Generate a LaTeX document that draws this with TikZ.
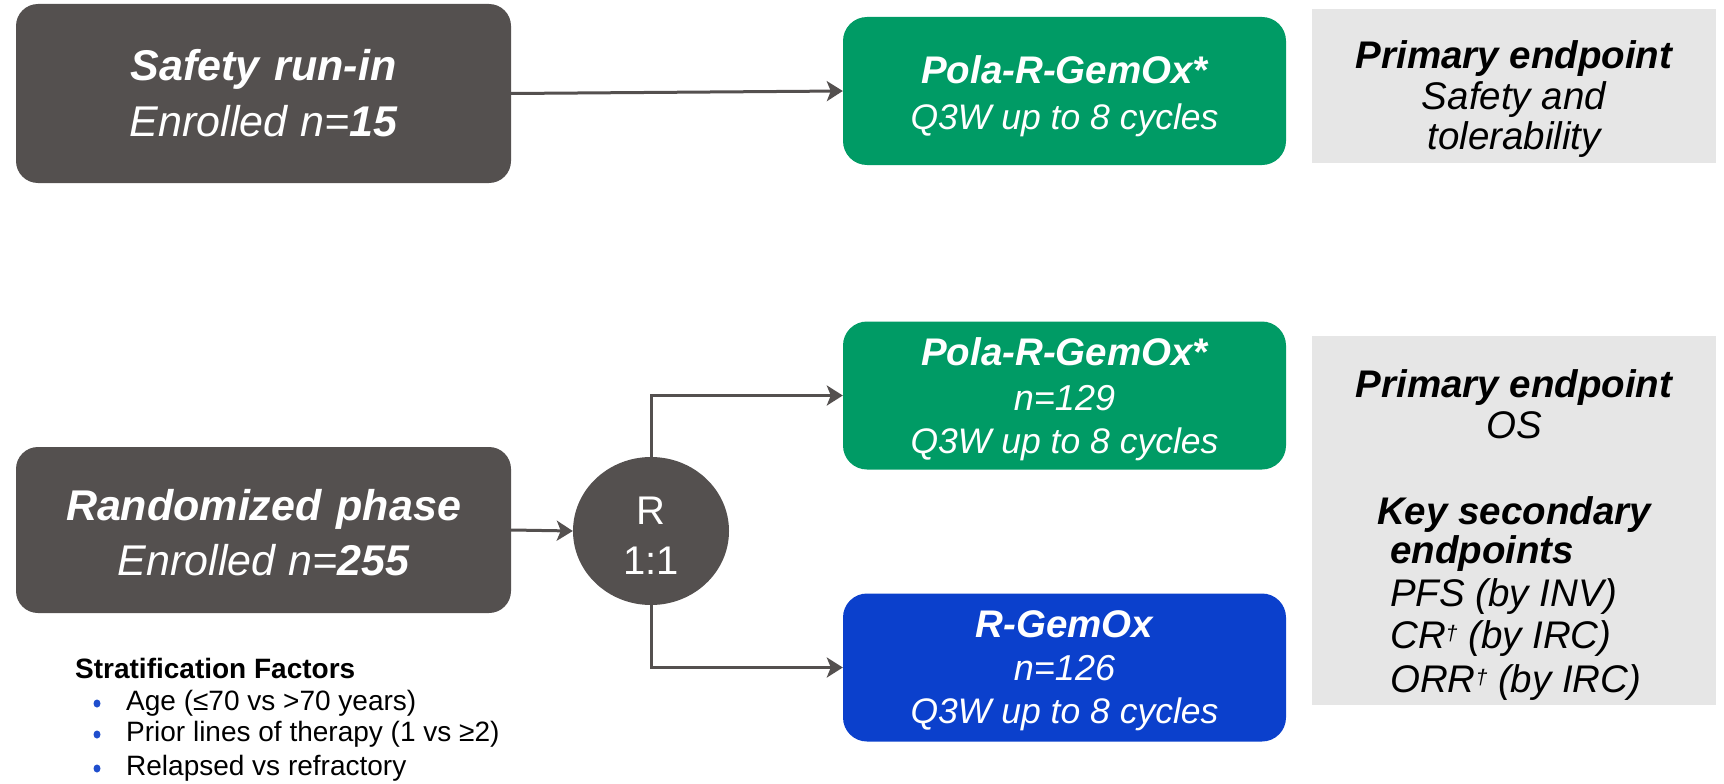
\documentclass[tikz,border=0pt]{standalone}
\usepackage{fontspec}
\setmainfont{Liberation Sans}
\usetikzlibrary{arrows.meta,shapes.geometric}
\definecolor{boxgray}{RGB}{84,80,79}
\definecolor{linegray}{RGB}{84,80,79}
\definecolor{armgreen}{RGB}{0,155,101}
\definecolor{armblue}{RGB}{11,64,204}
\definecolor{epgray}{RGB}{230,230,230}
\definecolor{bulletblue}{RGB}{31,78,205}
\newcommand{\fs}[1]{\fontsize{#1}{#1}\selectfont}
\newcommand{\dg}{\raisebox{8pt}{\fontsize{21}{21}\selectfont †}}
\begin{document}
\begin{tikzpicture}[x=1pt,y=-1pt,
  darkbox/.style={fill=boxgray, rounded corners=22pt, minimum width=495pt, inner sep=0pt},
  armbox/.style={rounded corners=24pt, minimum width=443pt, minimum height=148pt, inner sep=0pt},
  epbox/.style={fill=epgray, minimum width=404pt, inner sep=0pt},
  wt/.style={anchor=base, inner sep=0pt, text=white},
  bt/.style={anchor=base, inner sep=0pt, text=black},
  bl/.style={anchor=base west, inner sep=0pt, text=black},
  conn/.style={draw=linegray, line width=3pt, -{Stealth[length=16pt,width=20pt,inset=4pt]}},
  bulletdot/.style={ellipse, fill=bulletblue, inner sep=0pt, minimum width=7pt, minimum height=8pt},
]
\useasboundingbox (0,0) rectangle (1724,784);

% boxes
\node[darkbox, minimum height=179pt] (safety) at (263.5,93.5) {};
\node[darkbox, minimum height=166pt] (rand) at (263.5,530) {};
\node[armbox, fill=armgreen] (pola1) at (1064.5,91) {};
\node[armbox, fill=armgreen] (pola2) at (1064.5,395.5) {};
\node[armbox, fill=armblue] (rgem) at (1064.5,667.5) {};
\node[epbox, minimum height=154pt] (ep1) at (1514,86) {};
\node[epbox, minimum height=369pt] (ep2) at (1514,520.5) {};
\node[ellipse, fill=boxgray, minimum width=156pt, minimum height=148pt, inner sep=0pt] (R) at (651,531) {};

% connectors
\draw[conn] (safety.east) -- (pola1.west);
\draw[conn] (rand.east) -- (R.west);
\draw[conn] (R.north) |- (pola2.west);
\draw[conn] (R.south) |- (rgem.west);

% safety text
\node[wt, font=\fs{43}\bfseries\itshape] (safetyT1) at (263.5,81) {Safety\hspace{0.35em}run-in};
\node[wt, font=\fs{43}\itshape] (safetyT2) at (263.5,136) {Enrolled\hspace{0.3em}n=\textbf{15}};

% randomized text
\node[wt, font=\fs{43}\bfseries\itshape] (randT1) at (263.5,520) {Randomized\hspace{0.35em}phase};
\node[wt, font=\fs{43}\itshape] (randT2) at (263.5,575) {Enrolled\hspace{0.3em}n=\textbf{255}};

% R circle text
\node[wt, font=\fs{40}] (RT1) at (651,524) {R};
\node[wt, font=\fs{40}] (RT2) at (651,574) {1:1};

% arm texts
\node[wt, font=\fs{38.5}\bfseries\itshape] (pola1T1) at (1064.5,84) {Pola-R-GemOx*};
\node[wt, font=\fs{35.5}\itshape] (pola1T2) at (1064.5,129) {Q3W up to 8 cycles};

\node[wt, font=\fs{38.5}\bfseries\itshape] (pola2T1) at (1064.5,365) {Pola-R-GemOx*};
\node[wt, font=\fs{36}\itshape] (pola2T2) at (1064.5,410) {n=129};
\node[wt, font=\fs{35.5}\itshape] (pola2T3) at (1064.5,453) {Q3W up to 8 cycles};

\node[wt, font=\fs{38.5}\bfseries\itshape] (rgemT1) at (1064.5,637) {R-GemOx};
\node[wt, font=\fs{36}\itshape] (rgemT2) at (1064.5,680) {n=126};
\node[wt, font=\fs{35.5}\itshape] (rgemT3) at (1064.5,723) {Q3W up to 8 cycles};

% endpoint texts
\node[bt, font=\fs{38.5}\bfseries\itshape] (ep1T1) at (1514,68) {Primary endpoint};
\node[bt, font=\fs{38.5}\itshape] (ep1T2) at (1514,110) {Safety and};
\node[bt, font=\fs{38.5}\itshape] (ep1T3) at (1514,149) {tolerability};

\node[bt, font=\fs{38.5}\bfseries\itshape] (ep2T1) at (1514,397) {Primary endpoint};
\node[bt, font=\fs{38.5}\itshape] (ep2T2) at (1514,438) {OS};
\node[bt, font=\fs{38.5}\bfseries\itshape] (ep2T3) at (1514,524) {Key secondary};
\node[bl, font=\fs{38.5}\bfseries\itshape] (ep2T4) at (1390,563) {endpoints};
\node[bl, font=\fs{38.5}\itshape] (ep2T5) at (1390,606) {PFS (by INV)};
\node[bl, font=\fs{38.5}\itshape] (ep2T6) at (1390,648) {CR\dg{} (by IRC)};
\node[bl, font=\fs{38.5}\itshape] (ep2T7) at (1390,692) {ORR\dg{} (by IRC)};

% stratification
\node[bl, font=\fs{28}\bfseries] (stratT) at (75,678) {Stratification Factors};
\node[bl, font=\fs{28}] (strat1) at (126,710) {Age (≤70 vs >70 years)};
\node[bl, font=\fs{28}] (strat2) at (126,741) {Prior lines of therapy (1 vs ≥2)};
\node[bl, font=\fs{28}] (strat3) at (126,775) {Relapsed vs refractory};
\node[bulletdot] (b1) at (97,703.5) {};
\node[bulletdot] (b2) at (97,734.5) {};
\node[bulletdot] (b3) at (97,768.5) {};
\end{tikzpicture}
\end{document}
